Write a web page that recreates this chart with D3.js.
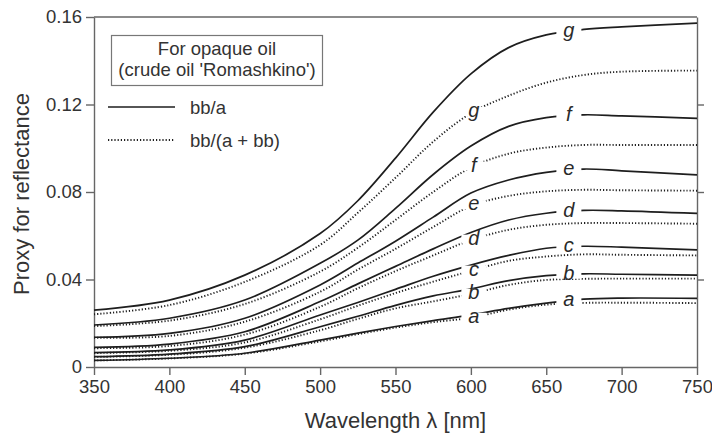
<!DOCTYPE html>
<html>
<head>
<meta charset="utf-8">
<script src="https://cdnjs.cloudflare.com/ajax/libs/d3/7.8.5/d3.min.js"></script>
<style>
  body { margin: 0; background: #fff; }
  svg { font-family: "Liberation Sans", Arial, sans-serif; display: block; }
  .axis path, .axis line { stroke: #666; stroke-width: 1.4; }
  .axis text { font-size: 18.5px; fill: #333; }
  .curve { fill: none; stroke: #1e1e1e; stroke-width: 1.7; }
  .curve.dotted { stroke-width: 1.9; stroke-dasharray: 1.2 2; }
  .label { font-size: 20px; font-style: italic; fill: #2a2a2a; }
  .title { font-size: 22px; fill: #333; }
  .legend text { font-size: 18.5px; fill: #333; }
</style>
</head>
<body>
<div class="container"></div>
<script>
// wavelength (nm) at which the curves were read
const wavelengths = [350, 400, 450, 500, 525, 550, 575, 600, 625, 650, 675, 700, 750];
const curveNames = ['a', 'b', 'c', 'd', 'e', 'f', 'g'];

// bb/a, one row per curve a..g
const ratioSolid = [
  [.0030, .0040, .0063, .0123, .0155, .0185, .0212, .0238, .0268, .0292, .0310, .0315, .0314],
  [.0047, .0059, .0093, .0184, .0232, .0282, .0325, .0357, .0395, .0418, .0426, .0424, .0420],
  [.0066, .0078, .0123, .0238, .0295, .0355, .0415, .0466, .0510, .0543, .0552, .0548, .0535],
  [.0090, .0105, .0161, .0299, .0380, .0460, .0540, .0615, .0672, .0703, .0716, .0714, .0702],
  [.0136, .0154, .0223, .0375, .0475, .0575, .0685, .0795, .0855, .0890, .0905, .0897, .0878],
  [.0192, .0223, .0306, .0474, .0580, .0725, .0880, .1010, .1100, .1140, .1153, .1148, .1137],
  [.0260, .0306, .0420, .0610, .0760, .0955, .1165, .1340, .1460, .1518, .1543, .1555, .1572]
];

// bb/(a + bb), one row per curve a..g
const ratioDotted = [
  [.0030, .0039, .0061, .0117, .0150, .0180, .0205, .0225, .0262, .0285, .0293, .0294, .0292],
  [.0046, .0056, .0088, .0168, .0220, .0268, .0300, .0334, .0375, .0398, .0403, .0404, .0404],
  [.0064, .0074, .0112, .0218, .0280, .0338, .0390, .0439, .0485, .0505, .0515, .0513, .0510],
  [.0086, .0096, .0148, .0275, .0360, .0438, .0510, .0580, .0627, .0650, .0658, .0658, .0655],
  [.0134, .0142, .0207, .0344, .0445, .0540, .0640, .0736, .0782, .0803, .0810, .0808, .0806],
  [.0187, .0212, .0288, .0436, .0545, .0672, .0800, .0912, .0975, .1003, .1015, .1015, .1015],
  [.0241, .0283, .0389, .0558, .0705, .0865, .1030, .1160, .1240, .1300, .1335, .1350, .1355]
];

const xTicks = [350, 400, 450, 500, 550, 600, 650, 700, 750];
const yTicks = [0, 0.04, 0.08, 0.12, 0.16];
const legendTitle = ['For opaque oil', "(crude oil 'Romashkino')"];
const legendItems = ['bb/a', 'bb/(a + bb)'];

(function(){
  const config = {w: 712, h: 437, m: {l: 94, r: 15, t: 17, b: 70}, solidLabelAt: 665, dottedLabelAt: 602};

  const svg = d3.select('.container').append('svg')
    .attr('width', config.w)
    .attr('height', config.h);

  const x = d3.scaleLinear()
    .domain([350, 750])
    .range([config.m.l, config.w - config.m.r]);

  const y = d3.scaleLinear()
    .domain([0, 0.16])
    .range([config.h - config.m.b, config.m.t]);

  const line = d3.line()
    .x((d, i) => x(wavelengths[i]))
    .y(d => y(d))
    .curve(d3.curveCatmullRom.alpha(0.5));

  // frame
  svg.append('line')
    .attr('x1', x.range()[0]).attr('x2', x.range()[1])
    .attr('y1', y(0.16)).attr('y2', y(0.16))
    .attr('stroke', '#666').attr('stroke-width', 1.4);

  svg.append('g')
    .attr('class', 'axis')
    .attr('transform', `translate(0,${y(0)})`)
    .call(d3.axisBottom(x).tickValues(xTicks).tickSize(8).tickPadding(5).tickSizeOuter(0));

  svg.append('g')
    .attr('class', 'axis')
    .attr('transform', `translate(${x(350)},0)`)
    .call(d3.axisLeft(y).tickValues(yTicks).tickSize(8).tickPadding(4).tickSizeOuter(0)
      .tickFormat(d => d === 0 ? '0' : d3.format('.2f')(d)));

  svg.append('g')
    .attr('class', 'axis')
    .attr('transform', `translate(${x(750)},0)`)
    .call(d3.axisRight(y).tickValues([0.04, 0.08, 0.12]).tickSize(7).tickSizeOuter(0).tickFormat(''));

  svg.selectAll('.axis text').attr('font-family', null);

  // curves
  const curves = svg.append('g');

  const dotted = curves.selectAll('path.dotted')
    .data(ratioDotted)
    .enter().append('path')
      .attr('class', 'curve dotted')
      .attr('d', line);

  const solid = curves.selectAll('path.solid')
    .data(ratioSolid)
    .enter().append('path')
      .attr('class', 'curve solid')
      .attr('d', line);

  function yAtX(node, px) {
    let lo = 0, hi = node.getTotalLength();
    for (let i = 0; i < 30; i++) {
      const mid = (lo + hi) / 2;
      if (node.getPointAtLength(mid).x < px) lo = mid; else hi = mid;
    }
    return node.getPointAtLength(lo).y;
  }

  const labels = svg.append('g');

  function addLabels(sel, at) {
    const px = x(at);
    sel.each(function(d, i) {
      const py = yAtX(this, px);
      const g = labels.append('g').attr('transform', `translate(${px},${py})`);
      g.append('rect')
        .attr('x', -12.5).attr('width', 25)
        .attr('y', -4.5).attr('height', 9)
        .attr('fill', '#fff');
      g.append('text')
        .attr('class', 'label')
        .attr('text-anchor', 'middle')
        .attr('y', 5.5)
        .text(curveNames[i]);
    });
  }

  addLabels(dotted, config.dottedLabelAt);
  addLabels(solid, config.solidLabelAt);

  // legend
  const legend = svg.append('g').attr('class', 'legend');

  legend.append('rect')
    .attr('x', 111.5).attr('y', 35.5)
    .attr('width', 211).attr('height', 50)
    .attr('fill', '#fff').attr('stroke', '#777').attr('stroke-width', 1.2);

  legend.selectAll('text.head')
    .data(legendTitle)
    .enter().append('text')
      .attr('class', 'head')
      .attr('x', 217)
      .attr('y', (d, i) => 55 + i * 21)
      .attr('text-anchor', 'middle')
      .text(d => d);

  const items = legend.selectAll('g.item')
    .data(legendItems)
    .enter().append('g')
      .attr('class', 'item')
      .attr('transform', (d, i) => `translate(0,${107 + i * 33})`);

  items.append('line')
    .attr('class', (d, i) => i ? 'curve dotted' : 'curve')
    .attr('x1', 108).attr('x2', 175);

  items.append('text')
    .attr('x', 190)
    .attr('y', 7)
    .text(d => d);

  // axis titles
  svg.append('text')
    .attr('class', 'title')
    .attr('x', (x(350) + x(750)) / 2)
    .attr('y', 428)
    .attr('text-anchor', 'middle')
    .text('Wavelength λ [nm]');

  svg.append('text')
    .attr('class', 'title')
    .attr('transform', `translate(29,${(y(0) + y(0.16)) / 2 + 2}) rotate(-90)`)
    .attr('text-anchor', 'middle')
    .text('Proxy for reflectance');
})();
</script>
</body>
</html>
